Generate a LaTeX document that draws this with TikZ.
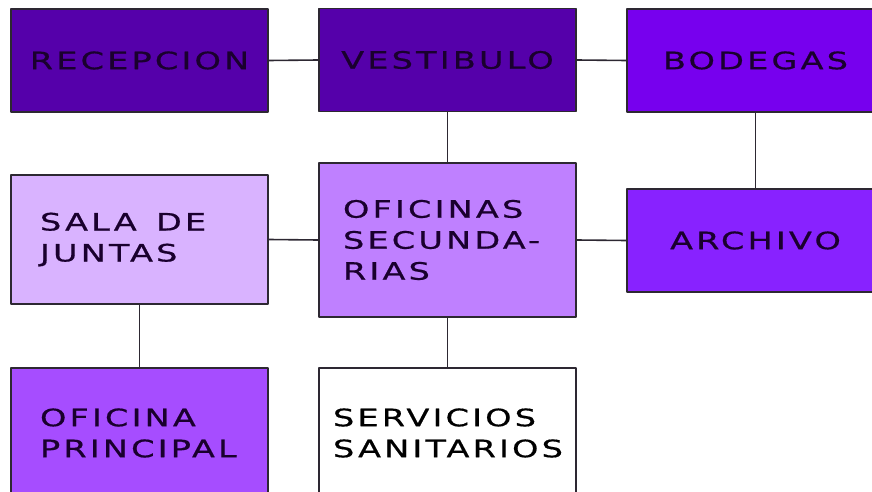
\documentclass[tikz,border=0pt]{standalone}
\usepackage{fontspec}
\setmainfont{DejaVu Sans}[FakeStretch=1.4,LetterSpace=13,FakeBold=0.6]
\definecolor{morado}{RGB}{85,0,170}
\definecolor{violeta}{RGB}{119,0,238}
\definecolor{archivoc}{RGB}{136,34,255}
\definecolor{principalc}{RGB}{166,77,255}
\definecolor{oficinasc}{RGB}{191,128,255}
\definecolor{salac}{RGB}{217,179,255}
\definecolor{letra}{RGB}{26,0,46}
\definecolor{borde}{RGB}{45,40,50}
\begin{document}
\begin{tikzpicture}[x=1pt, y=-1pt, line join=round,
		font=\fontsize{24}{31}\selectfont,
		sala/.style={draw=borde, line width=1.6pt, minimum width=257pt, inner sep=0pt, text=letra},
		enlace/.style={draw=borde, line width=1.6pt}]
			\useasboundingbox (0,0) rectangle (872,492);
			\clip (0,0) rectangle (872,492);
			% Fila superior
			\node[sala, fill=morado, minimum height=103pt] (R) at (139.5,60.5) {RECEPCION};
			\node[sala, fill=morado, minimum height=103pt] (V) at (447.5,60) {VESTIBULO};
			\node[sala, fill=violeta, minimum height=103pt] (B) at (755.5,60.5) {BODEGAS};
			% Fila central
			\node[sala, fill=salac, minimum height=129pt, text width=199pt, align=left] (S) at (139.5,239.5) {SALA\hspace{0.8em}DE\\JUNTAS};
			\node[sala, fill=oficinasc, minimum height=154pt, text width=209pt, align=left] (O) at (447.5,240) {OFICINAS\\SECUNDA-\\RIAS};
			\node[sala, fill=archivoc, minimum height=103pt] (A) at (755.5,240.5) {ARCHIVO};
			% Fila inferior
			\node[sala, fill=principalc, minimum height=130pt, text width=199pt, align=left] (P) at (139.5,433) {OFICINA\\PRINCIPAL};
			\node[sala, fill=white, text=black, minimum height=130pt, text width=229pt, align=left] (SS) at (447.5,433) {SERVICIOS\\SANITARIOS};
			% Enlaces
			\draw[enlace] (R.east)--(V.west);
			\draw[enlace] (V.east)--(B.west);
			\draw[enlace] (V.south)--(O.north);
			\draw[enlace] (B.south)--(A.north);
			\draw[enlace] (S.east)--(O.west);
			\draw[enlace] (O.east)--(A.west);
			\draw[enlace] (S.south)--(P.north);
			\draw[enlace] (O.south)--(SS.north);
		\end{tikzpicture}
\end{document}
